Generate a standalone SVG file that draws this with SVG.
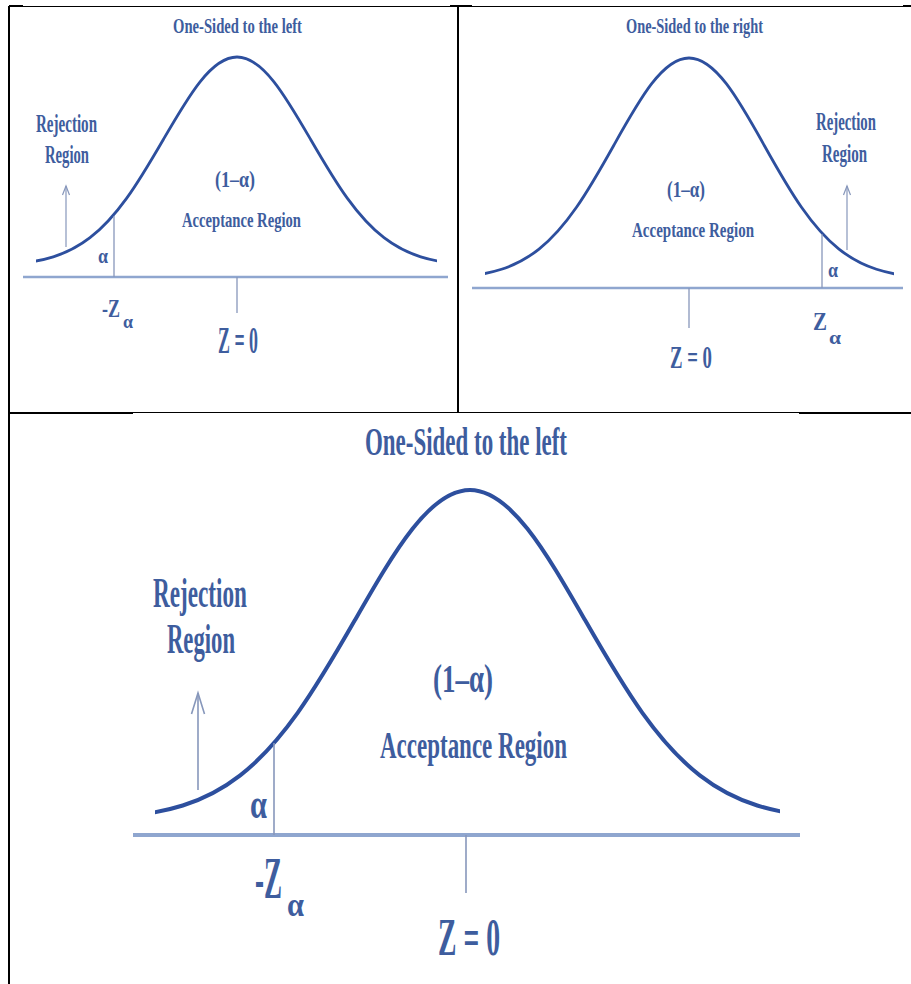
<svg xmlns="http://www.w3.org/2000/svg" xmlns:xlink="http://www.w3.org/1999/xlink" width="911" height="984" viewBox="0 0 911 984">
<style>
.t{font-family:"Liberation Serif","DejaVu Serif",serif;fill:#3e5d9e;font-weight:bold}
.curve{fill:none;stroke:#2d4f9e;stroke-linejoin:round;stroke-linecap:round}
.bellp{vector-effect:non-scaling-stroke}
.axis{stroke:#8fa6cf;fill:none}
.thin{stroke:#8797bb;fill:none}
.bd{stroke:#000;fill:none}
</style>
<defs>
<path id="bell" class="bellp" d="M-3,-0.01111 C-2.83333,-0.01667 -2.66667,-0.02563 -2.5,-0.04394 C-2.33333,-0.06225 -2.16667,-0.09023 -2,-0.13534 C-1.83333,-0.18045 -1.66667,-0.24349 -1.5,-0.32465 C-1.33333,-0.40581 -1.16667,-0.50544 -1,-0.60653 C-0.83333,-0.70762 -0.66667,-0.80896 -0.5,-0.8825 C-0.33333,-0.95604 -0.16667,-1 0,-1 C0.16667,-1 0.33333,-0.95604 0.5,-0.8825 C0.66667,-0.80896 0.83333,-0.70762 1,-0.60653 C1.16667,-0.50544 1.33333,-0.40581 1.5,-0.32465 C1.66667,-0.24349 1.83333,-0.18045 2,-0.13534 C2.16667,-0.09023 2.33333,-0.06225 2.5,-0.04394 C2.66667,-0.02563 2.83333,-0.01667 3,-0.01111"/>
<marker id="headS" markerUnits="userSpaceOnUse" markerWidth="12" markerHeight="12" refX="10" refY="6" orient="auto" viewBox="0 0 12 12">
<polyline points="1,2.5 10,6 1,9.5" fill="none" stroke="#8797bb" stroke-width="1.2"/>
</marker>
<marker id="headL" markerUnits="userSpaceOnUse" markerWidth="26" markerHeight="20" refX="23" refY="10" orient="auto" viewBox="0 0 26 20">
<polyline points="2,3.5 23,10 2,16.5" fill="none" stroke="#8797bb" stroke-width="1.6"/>
</marker>
<clipPath id="c1"><rect x="36" y="0" width="401" height="300"/></clipPath>
<clipPath id="c2"><rect x="485" y="0" width="409" height="300"/></clipPath>
<clipPath id="c3"><rect x="155" y="400" width="625" height="440"/></clipPath>
</defs>

<g id="table-borders">
<line class="bd" x1="9" y1="6" x2="9" y2="984" stroke-width="2"/>
<line class="bd" x1="9" y1="6" x2="23" y2="6" stroke-width="2"/>
<line class="bd" x1="23" y1="6.5" x2="450" y2="6.5" stroke-width="1"/>
<line class="bd" x1="450" y1="6" x2="472" y2="6" stroke-width="2"/>
<line class="bd" x1="472" y1="6.5" x2="903" y2="6.5" stroke-width="1"/>
<line class="bd" x1="903" y1="6" x2="911" y2="6" stroke-width="2"/>
<line class="bd" x1="458" y1="6" x2="458" y2="413" stroke-width="2"/>
<line class="bd" x1="9" y1="413" x2="133" y2="413" stroke-width="2"/>
<line class="bd" x1="133" y1="412.5" x2="799" y2="412.5" stroke-width="1"/>
<line class="bd" x1="799" y1="413" x2="911" y2="413" stroke-width="2"/>
</g>

<g id="panel-left">
<text class="t" x="173" y="33" font-size="21" textLength="129" lengthAdjust="spacingAndGlyphs">One-Sided to the left</text>
<g clip-path="url(#c1)"><use xlink:href="#bell" class="curve" stroke-width="2.8" transform="translate(237,266) scale(73.5,209)"/></g>
<line class="axis" x1="23" y1="277" x2="448" y2="277" stroke-width="2.5"/>
<line class="thin" x1="114" y1="216" x2="114" y2="277" stroke-width="1.3"/>
<line class="thin" x1="237" y1="277" x2="237" y2="313" stroke-width="1.3"/>
<line class="thin" x1="66" y1="247" x2="66" y2="186" stroke-width="1.2" marker-end="url(#headS)"/>
<text class="t" x="36" y="132" font-size="25" textLength="61" lengthAdjust="spacingAndGlyphs">Rejection</text>
<text class="t" x="45" y="163" font-size="25" textLength="44" lengthAdjust="spacingAndGlyphs">Region</text>
<text class="t" x="215" y="187" font-size="23" textLength="40" lengthAdjust="spacingAndGlyphs">(1–α)</text>
<text class="t" x="182" y="227" font-size="22" textLength="119" lengthAdjust="spacingAndGlyphs">Acceptance Region</text>
<text class="t" x="98" y="263" font-size="20" textLength="10" lengthAdjust="spacingAndGlyphs">α</text>
<text class="t" x="102" y="317" font-size="26" textLength="18" lengthAdjust="spacingAndGlyphs">-Z</text>
<text class="t" x="123" y="328" font-size="18" textLength="10" lengthAdjust="spacingAndGlyphs">α</text>
<text class="t" x="218" y="353" font-size="38" textLength="40" lengthAdjust="spacingAndGlyphs">Z = 0</text>
</g>

<g id="panel-right">
<text class="t" x="626" y="33" font-size="21" textLength="137" lengthAdjust="spacingAndGlyphs">One-Sided to the right</text>
<g clip-path="url(#c2)"><use xlink:href="#bell" class="curve" stroke-width="2.8" transform="translate(689,279) scale(75,221)"/></g>
<line class="axis" x1="472" y1="288" x2="903" y2="288" stroke-width="2.5"/>
<line class="thin" x1="822" y1="234" x2="822" y2="288" stroke-width="1.3"/>
<line class="thin" x1="689" y1="288" x2="689" y2="328" stroke-width="1.3"/>
<line class="thin" x1="847" y1="250" x2="847" y2="186" stroke-width="1.2" marker-end="url(#headS)"/>
<text class="t" x="816" y="130" font-size="25" textLength="60" lengthAdjust="spacingAndGlyphs">Rejection</text>
<text class="t" x="822" y="162" font-size="25" textLength="45" lengthAdjust="spacingAndGlyphs">Region</text>
<text class="t" x="667" y="197" font-size="23" textLength="38" lengthAdjust="spacingAndGlyphs">(1–α)</text>
<text class="t" x="632" y="237" font-size="22" textLength="122" lengthAdjust="spacingAndGlyphs">Acceptance Region</text>
<text class="t" x="828" y="277" font-size="20" textLength="10" lengthAdjust="spacingAndGlyphs">α</text>
<text class="t" x="813" y="330" font-size="26" textLength="14" lengthAdjust="spacingAndGlyphs">Z</text>
<text class="t" x="829" y="344" font-size="18" textLength="12" lengthAdjust="spacingAndGlyphs">α</text>
<text class="t" x="670" y="368" font-size="32" textLength="42" lengthAdjust="spacingAndGlyphs">Z = 0</text>
</g>

<g id="panel-bottom">
<text class="t" x="365" y="455" font-size="40" textLength="202" lengthAdjust="spacingAndGlyphs">One-Sided to the left</text>
<g clip-path="url(#c3)"><use xlink:href="#bell" class="curve" stroke-width="4" transform="translate(470,820) scale(114.9,330)"/></g>
<line class="axis" x1="133" y1="835" x2="800" y2="835" stroke-width="4"/>
<line class="thin" x1="274" y1="743" x2="274" y2="835" stroke-width="1.6"/>
<line class="thin" x1="466" y1="835" x2="466" y2="893" stroke-width="1.6"/>
<line class="thin" x1="198" y1="790" x2="198" y2="693" stroke-width="1.6" marker-end="url(#headL)"/>
<text class="t" x="153" y="607" font-size="43" textLength="94" lengthAdjust="spacingAndGlyphs">Rejection</text>
<text class="t" x="167" y="653" font-size="43" textLength="68" lengthAdjust="spacingAndGlyphs">Region</text>
<text class="t" x="433" y="692" font-size="40" textLength="60" lengthAdjust="spacingAndGlyphs">(1–α)</text>
<text class="t" x="380" y="758" font-size="38" textLength="187" lengthAdjust="spacingAndGlyphs">Acceptance Region</text>
<text class="t" x="250" y="818" font-size="42" textLength="17" lengthAdjust="spacingAndGlyphs">α</text>
<text class="t" x="255" y="898" font-size="60" textLength="27" lengthAdjust="spacingAndGlyphs">-Z</text>
<text class="t" x="287" y="916" font-size="34" textLength="17" lengthAdjust="spacingAndGlyphs">α</text>
<text class="t" x="438" y="955" font-size="53" textLength="62" lengthAdjust="spacingAndGlyphs">Z = 0</text>
</g>
</svg>
